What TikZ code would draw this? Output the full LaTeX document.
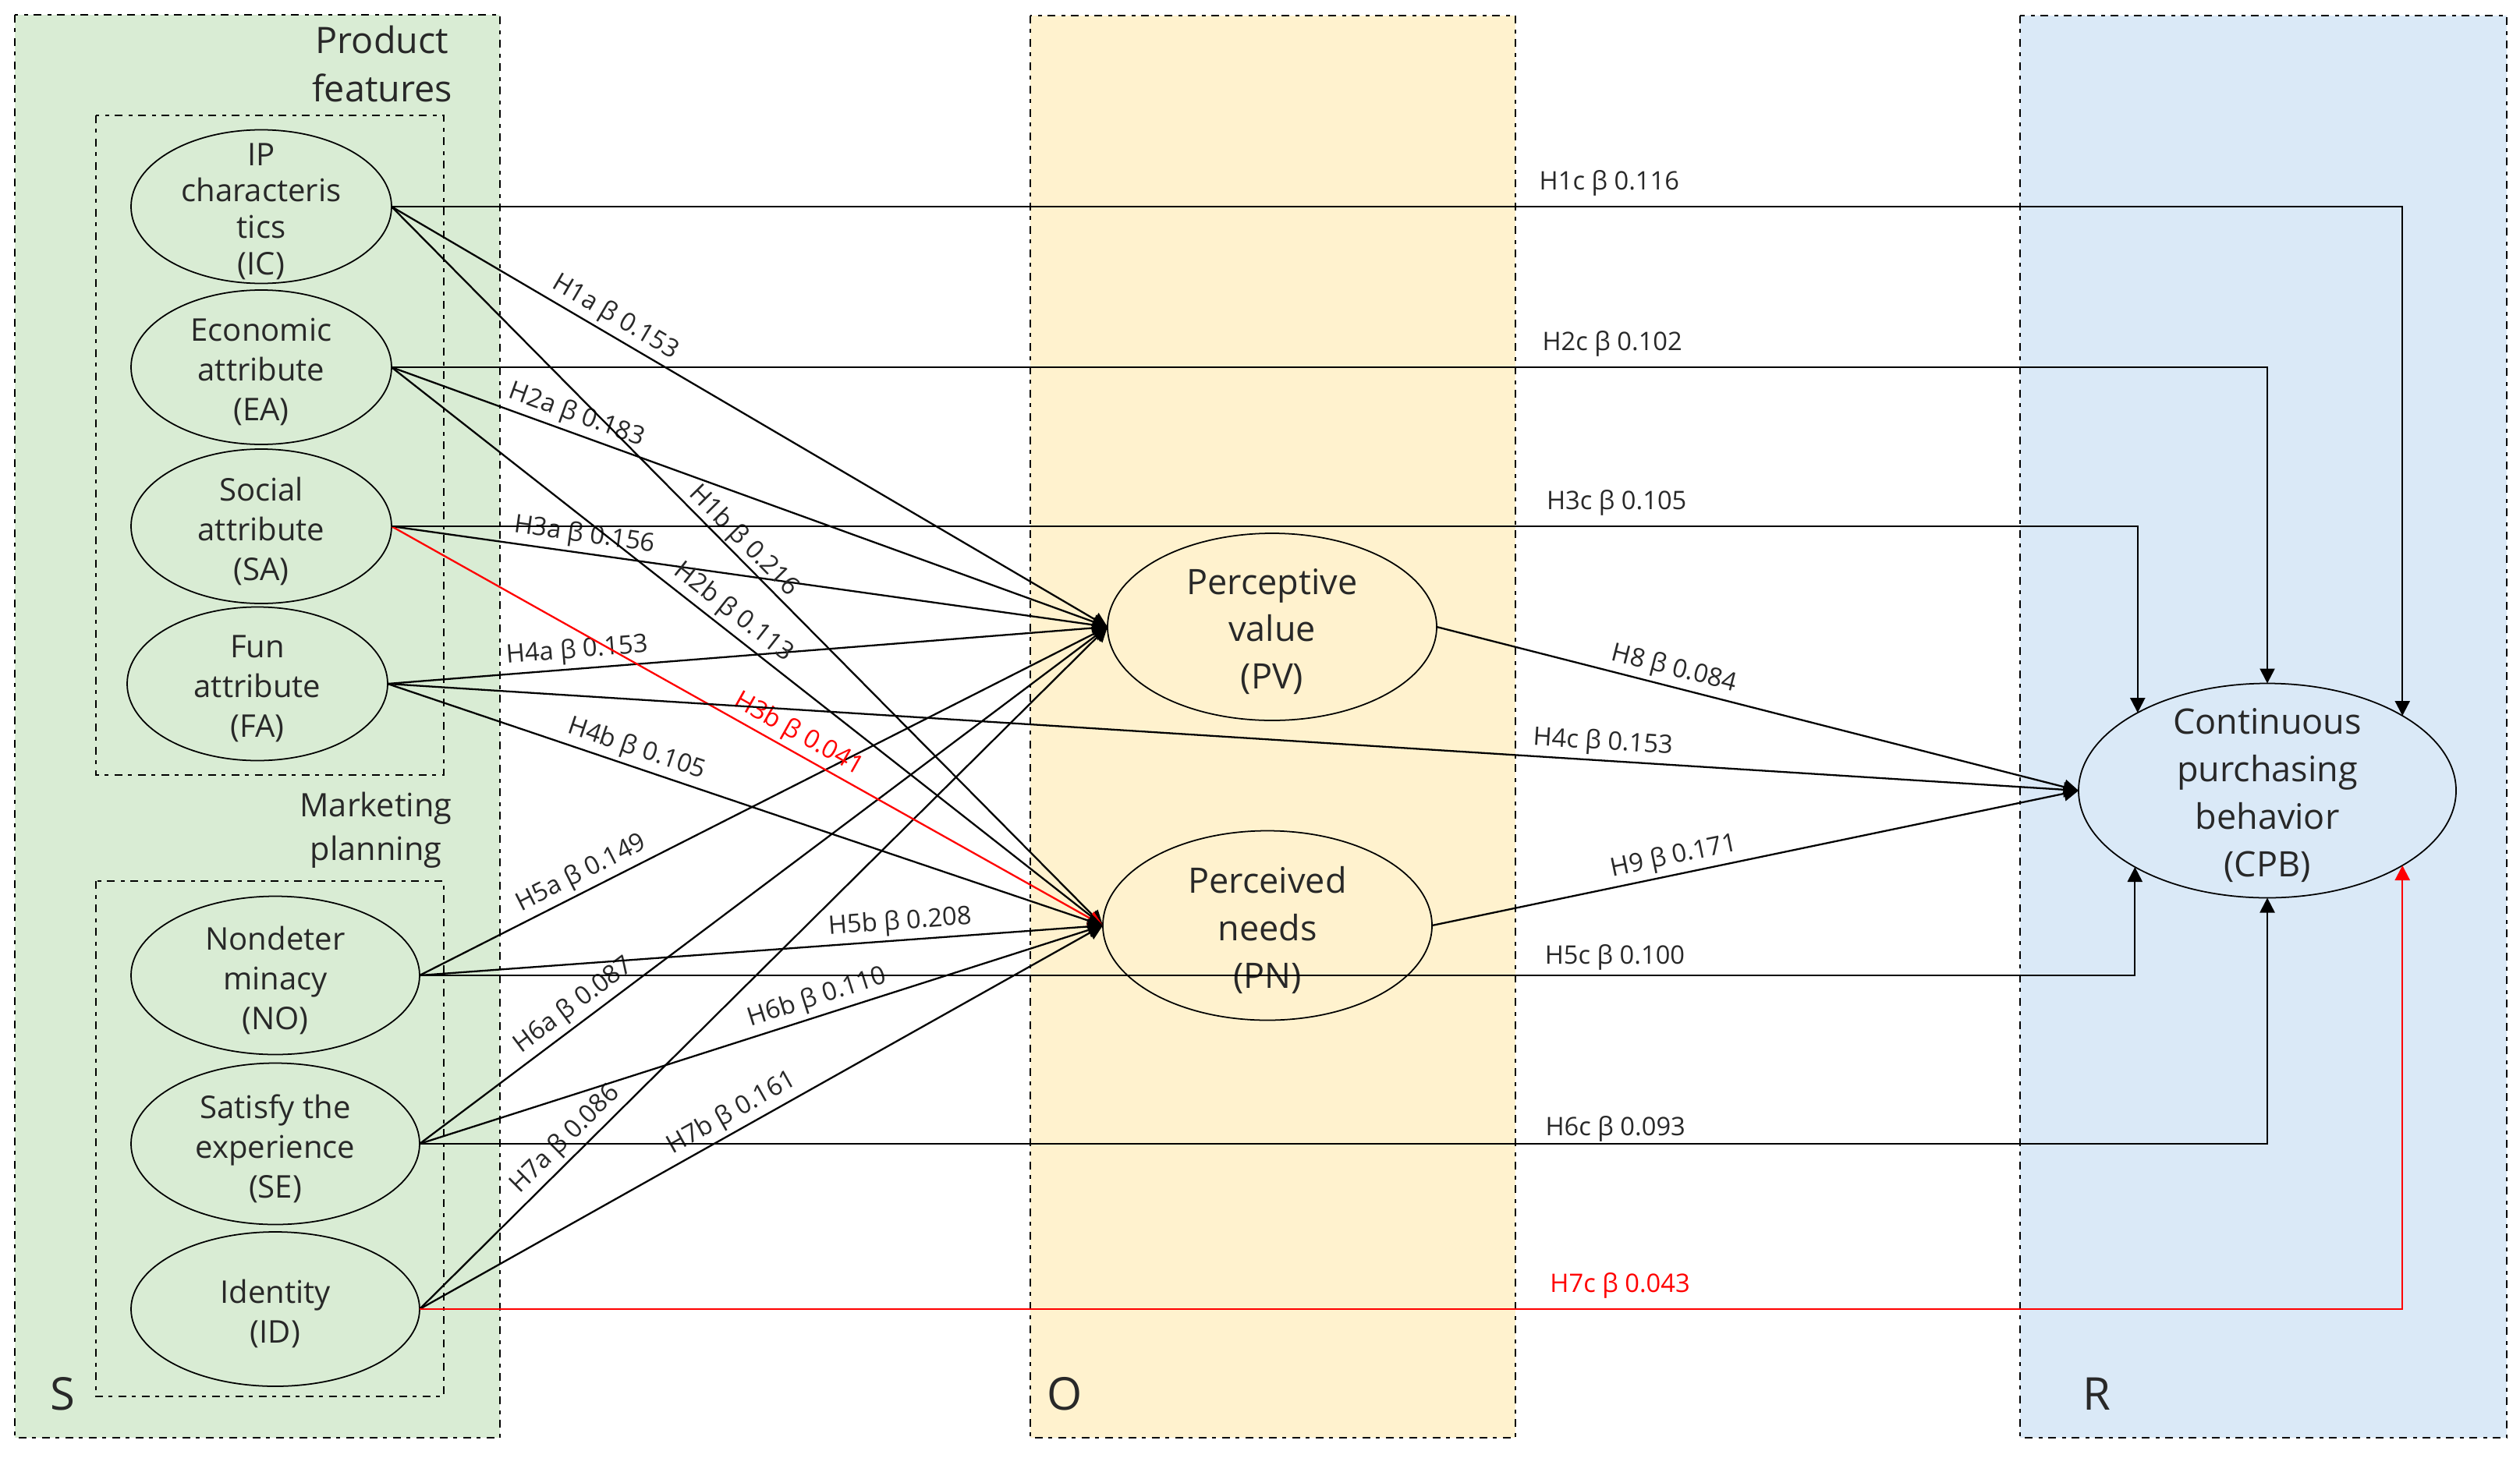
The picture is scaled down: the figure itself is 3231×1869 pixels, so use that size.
\documentclass[tikz,border=0pt]{standalone}
\usepackage{fontspec}
\setmainfont{Open Sans}
\usetikzlibrary{arrows.meta,shapes.geometric}
\definecolor{sgreen}{RGB}{217,236,212}
\definecolor{oyellow}{RGB}{255,242,206}
\definecolor{rblue}{RGB}{218,233,247}
\definecolor{txt}{RGB}{40,40,40}
\begin{document}
\begin{tikzpicture}[x=0.1mm,y=-0.1mm,
  frame/.style={draw=black, line width=0.45pt, dash pattern=on 1mm off 0.75mm on 0.5mm off 0.75mm},
  innerbox/.style={draw=black, line width=0.45pt, dash pattern=on 1mm off 0.75mm on 0.5mm off 0.75mm},
  ell/.style={ellipse, draw=black, line width=0.5pt, inner sep=0pt, outer sep=0pt},
  etext/.style={align=center, text=txt, inner sep=0pt, yshift=-0.6mm, font=\fontsize{11.4}{14.5}\selectfont},
  bigtext/.style={align=center, text=txt, inner sep=0pt, yshift=-0.6mm, font=\fontsize{12.8}{17.3}\selectfont},
  conn/.style={draw=black, line width=0.65pt, -{Triangle[width=1.9mm,length=1.9mm]}},
  redconn/.style={conn, draw=red},
  lab/.style={font=\fontsize{9.3}{11}\selectfont, text=txt, sloped, above, inner sep=1.5pt},
  hlab/.style={font=\fontsize{9.3}{11}\selectfont, text=txt, above, inner sep=3.5pt},
  letter/.style={font=\fontsize{16.5}{18}\selectfont, text=txt, anchor=base, inner sep=0pt}
]
\useasboundingbox (0,0) rectangle (3231,1869);
\fill[white] (0,0) rectangle (3231,1869);

% frames
\path[frame, fill=sgreen] (19,19) rectangle (641,1844);
\path[frame, fill=oyellow] (1321,20) rectangle (1943,1844);
\path[frame, fill=rblue] (2590,20) rectangle (3214,1844);
\path[innerbox] (123,148) rectangle (569,994);
\path[innerbox] (123,1130) rectangle (569,1791);

% titles and letters
\node[align=center, text=txt, inner sep=0pt, font=\fontsize{13.3}{17.6}\selectfont] (PFt) at (490,82) {Product\\features};
\node[align=center, text=txt, inner sep=0pt, font=\fontsize{11.8}{16}\selectfont] (MPt) at (482,1065) {Marketing\\planning};
\node[letter] (Sl) at (80,1808) {S};
\node[letter] (Ol) at (1365,1808) {O};
\node[letter] (Rl) at (2688,1808) {R};

% ellipses
\node[ell, fill=sgreen, minimum width=33.4mm, minimum height=19.7mm] (IC) at (335,265) {};
\node[ell, fill=sgreen, minimum width=33.4mm, minimum height=19.8mm] (EA) at (335,471) {};
\node[ell, fill=sgreen, minimum width=33.4mm, minimum height=19.8mm] (SA) at (335,675) {};
\node[ell, fill=sgreen, minimum width=33.4mm, minimum height=19.7mm] (FA) at (330,877) {};
\node[ell, fill=sgreen, minimum width=37mm, minimum height=20.3mm] (NO) at (353,1251) {};
\node[ell, fill=sgreen, minimum width=37mm, minimum height=20.7mm] (SE) at (353,1467) {};
\node[ell, fill=sgreen, minimum width=37mm, minimum height=19.8mm] (ID) at (353,1679) {};
\node[ell, fill=oyellow, minimum width=42.2mm, minimum height=24mm] (PV) at (1631,804) {};
\node[ell, fill=oyellow, minimum width=42.2mm, minimum height=24.3mm] (PN) at (1625,1187) {};
\node[ell, fill=rblue, minimum width=48.4mm, minimum height=27.5mm] (CPB) at (2907,1014) {};

% ellipse texts
\node[etext, font=\fontsize{11.4}{13.3}\selectfont] (ICt) at (IC) {IP\\characteris\\tics\\(IC)};
\node[etext] (EAt) at (EA) {Economic\\attribute\\(EA)};
\node[etext] (SAt) at (SA) {Social\\attribute\\(SA)};
\node[etext] (FAt) at (FA) {Fun\\attribute\\(FA)};
\node[etext] (NOt) at (NO) {Nondeter\\minacy\\(NO)};
\node[etext] (SEt) at (SE) {Satisfy the\\experience\\(SE)};
\node[etext] (IDt) at (ID) {Identity\\(ID)};
\node[bigtext] (PVt) at (PV) {Perceptive\\value\\(PV)};
\node[bigtext] (PNt) at (PN) {Perceived\\needs\\(PN)};
\node[bigtext] (CPBt) at (CPB) {Continuous\\purchasing\\behavior\\(CPB)};

% to PV
\draw[conn] (IC.east) -- node[lab, pos=0.30] {H1a β 0.153} (PV.west);
\draw[conn] (EA.east) -- node[lab, pos=0.25] {H2a β 0.183} (PV.west);
\draw[conn] (SA.east) -- node[lab, pos=0.266] {H3a β 0.156} (PV.west);
\draw[conn] (FA.east) -- node[lab, pos=0.265] {H4a β 0.153} (PV.west);
\draw[conn] (NO.east) -- node[lab, pos=0.247] {H5a β 0.149} (PV.west);
\draw[conn] (SE.east) -- node[lab, pos=0.24] {H6a β 0.087} (PV.west);
\draw[conn] (ID.east) -- node[lab, pos=0.23] {H7a β 0.086} (PV.west);

% to PN
\draw[conn] (IC.east) -- node[lab, pos=0.48, inner sep=0.5pt] {H1b β 0.216} (PN.west);
\draw[conn] (EA.east) -- node[lab, pos=0.465] {H2b β 0.113} (PN.west);
\draw[redconn] (SA.east) -- node[lab, pos=0.56, text=red] {H3b β 0.041} (PN.west);
\draw[conn] (FA.east) -- node[lab, pos=0.34] {H4b β 0.105} (PN.west);
\draw[conn] (NO.east) -- node[lab, pos=0.705] {H5b β 0.208} (PN.west);
\draw[conn] (SE.east) -- node[lab, pos=0.59] {H6b β 0.110} (PN.west);
\draw[conn] (ID.east) -- node[lab, pos=0.47] {H7b β 0.161} (PN.west);

% to CPB
\draw[conn] (IC.east) -| node[hlab, pos=0.3028] {H1c β 0.116} (CPB.29);
\draw[conn] (EA.east) -| node[hlab, pos=0.3254] {H2c β 0.102} (CPB.north);
\draw[conn] (SA.east) -| node[hlab, pos=0.3508] {H3c β 0.105} (CPB.149.87);
\draw[conn] (FA.east) -- node[lab, pos=0.718] {H4c β 0.153} (CPB.west);
\draw[conn] (NO.east) -| node[hlab, pos=0.3484, inner sep=1.5pt] {H5c β 0.100} (CPB.210.13);
\draw[conn] (SE.east) -| node[hlab, pos=0.3236, inner sep=0.5pt] {H6c β 0.093} (CPB.south);
\draw[redconn] (ID.east) -| node[hlab, pos=0.3027, text=red] {H7c β 0.043} (CPB.-29);
\draw[conn] (PV.east) -- node[lab, pos=0.363] {H8 β 0.084} (CPB.west);
\draw[conn] (PN.east) -- node[lab, pos=0.38] {H9 β 0.171} (CPB.west);
\end{tikzpicture}
\end{document}
